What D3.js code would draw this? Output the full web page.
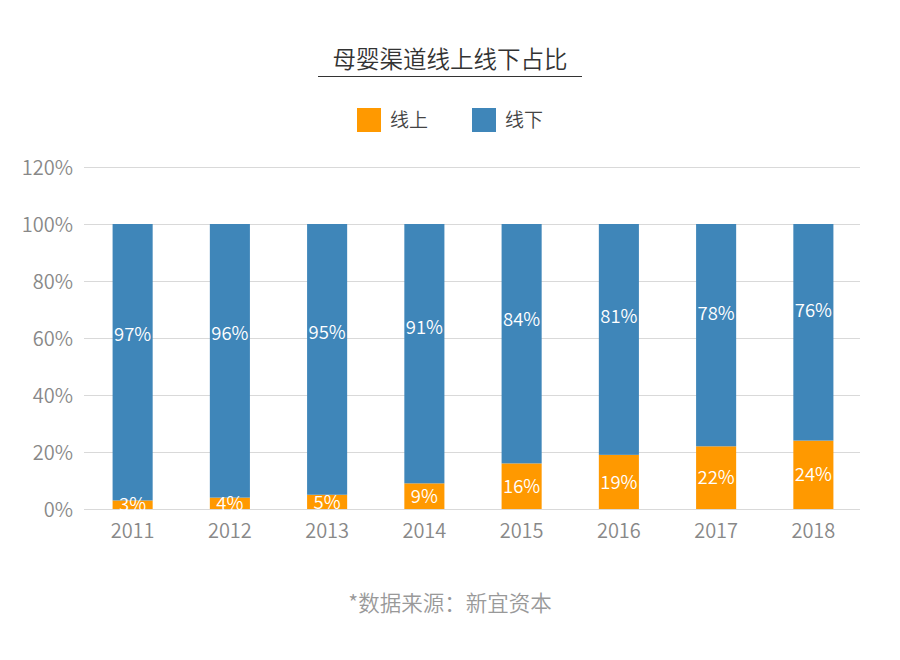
<!DOCTYPE html>
<html>
<head>
<meta charset="utf-8">
<script src="https://cdn.jsdelivr.net/npm/d3@7"></script>
<style>
body { margin: 0; background: #fff; }
text { font-family: "Noto Sans CJK SC", "Noto Sans", sans-serif; }
</style>
</head>
<body>
<script>
var years = ["2011", "2012", "2013", "2014", "2015", "2016", "2017", "2018"];
var online = [3, 4, 5, 9, 16, 19, 22, 24];
var offline = [97, 96, 95, 91, 84, 81, 78, 76];
var seriesNames = ["线上", "线下"];
var yTicks = [0, 20, 40, 60, 80, 100, 120];

var colors = ["#ff9900", "#3f86b9"];

var margin = { top: 167, right: 38, bottom: 151, left: 84 },
  width = 900 - margin.left - margin.right,
  height = 660 - margin.top - margin.bottom;

var svg = d3.select("body").append("svg")
  .attr("width", 900)
  .attr("height", 660);

// title
svg.append("text")
  .attr("x", 450)
  .attr("y", 68)
  .attr("text-anchor", "middle")
  .attr("font-size", 23.5)
  .attr("font-weight", 350)
  .attr("fill", "#333")
  .text("母婴渠道线上线下占比");

svg.append("line")
  .attr("x1", 318).attr("x2", 582)
  .attr("y1", 76.5).attr("y2", 76.5)
  .attr("stroke", "#333")
  .attr("stroke-width", 1.2);

// legend
var legend = svg.selectAll(".legend")
  .data(seriesNames)
  .enter().append("g")
  .attr("class", "legend")
  .attr("transform", function(d, i) {
    return "translate(" + (357 + i * 115) + ",108)";
  });

legend.append("rect")
  .attr("width", 24)
  .attr("height", 24)
  .attr("fill", function(d, i) { return colors[i]; });

legend.append("text")
  .attr("x", 33)
  .attr("y", 19)
  .attr("font-size", 19)
  .attr("font-weight", 350)
  .attr("fill", "#444")
  .text(function(d) { return d; });

var g = svg.append("g")
  .attr("transform", "translate(" + margin.left + "," + margin.top + ")");

var x = d3.scaleBand()
  .domain(years)
  .range([0, width])
  .paddingInner(0.588)
  .paddingOuter(0.294);

var y = d3.scaleLinear()
  .domain([0, 120])
  .range([height, 0]);

// grid
g.selectAll(".grid")
  .data(yTicks)
  .enter().append("line")
  .attr("class", "grid")
  .attr("x1", 0)
  .attr("x2", 776)
  .attr("y1", function(d) { return Math.round(y(d)) + 0.5; })
  .attr("y2", function(d) { return Math.round(y(d)) + 0.5; })
  .attr("stroke", "#d9d9d9")
  .attr("stroke-width", 1);

// y tick labels
g.selectAll(".ylab")
  .data(yTicks)
  .enter().append("text")
  .attr("class", "ylab")
  .attr("x", -11)
  .attr("y", function(d) { return y(d); })
  .attr("dy", "0.38em")
  .attr("text-anchor", "end")
  .attr("font-size", 20)
  .attr("font-weight", 350)
  .attr("fill", "#888")
  .text(function(d) { return d + "%"; });

// x labels
g.selectAll(".xlab")
  .data(years)
  .enter().append("text")
  .attr("class", "xlab")
  .attr("x", function(d) { return x(d) + x.bandwidth() / 2; })
  .attr("y", height + 29)
  .attr("text-anchor", "middle")
  .attr("font-size", 20)
  .attr("font-weight", 350)
  .attr("fill", "#888")
  .text(function(d) { return d; });

var rows = years.map(function(yr, i) {
  return { year: yr, on: online[i], off: offline[i] };
});

// bars
var bar = g.selectAll(".bar")
  .data(rows)
  .enter().append("g")
  .attr("class", "bar");

bar.append("rect")
  .attr("x", function(d) { return x(d.year); })
  .attr("width", x.bandwidth())
  .attr("y", function(d) { return y(d.on); })
  .attr("height", function(d) { return y(0) - y(d.on); })
  .attr("fill", colors[0]);

bar.append("rect")
  .attr("x", function(d) { return x(d.year); })
  .attr("width", x.bandwidth())
  .attr("y", function(d) { return y(d.on + d.off); })
  .attr("height", function(d) { return y(d.on) - y(d.on + d.off); })
  .attr("fill", colors[1]);

bar.append("text")
  .attr("x", function(d) { return x(d.year) + x.bandwidth() / 2; })
  .attr("y", function(d) { return y(d.on / 2); })
  .attr("dy", "0.36em")
  .attr("text-anchor", "middle")
  .attr("font-size", 18.5)
  .attr("font-weight", 350)
  .attr("fill", "#fff")
  .text(function(d) { return d.on + "%"; });

bar.append("text")
  .attr("x", function(d) { return x(d.year) + x.bandwidth() / 2; })
  .attr("y", function(d) { return y(d.on + d.off * 0.6); })
  .attr("dy", "0.36em")
  .attr("text-anchor", "middle")
  .attr("font-size", 18.5)
  .attr("font-weight", 350)
  .attr("fill", "#fff")
  .text(function(d) { return d.off + "%"; });

// source
svg.append("text")
  .attr("x", 450)
  .attr("y", 611)
  .attr("text-anchor", "middle")
  .attr("font-size", 21.5)
  .attr("font-weight", 350)
  .attr("fill", "#999")
  .text("*数据来源：新宜资本");
</script>
</body>
</html>
